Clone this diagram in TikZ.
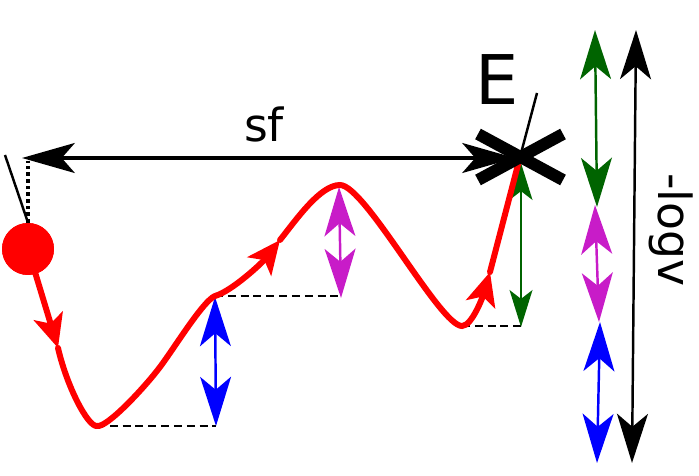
\documentclass[tikz,border=0pt]{standalone}
\usepackage{fontspec}
\setmainfont{DejaVu Sans}
\usepackage{tikz}
\usetikzlibrary{arrows.meta,positioning,calc}
\definecolor{dgreen}{RGB}{0,100,0}
\definecolor{mag}{RGB}{200,28,200}

\begin{document}
\begin{tikzpicture}[x=0.02cm, y=-0.02cm,
  lab/.style={font=\fontsize{26}{30}\selectfont, inner sep=0pt},
  biglab/.style={font=\fontsize{39}{44}\selectfont, inner sep=0pt},
  curve/.style={red, line width=3.4pt, line cap=round},
  redtip/.style={-{Stealth[length=19pt,width=17pt,inset=4.5pt]}},
  gap/.style={line width=1.4pt, {Stealth[length=28pt,width=17.6pt,inset=7.4pt]}-{Stealth[length=28pt,width=17.6pt,inset=7.4pt]}},
  smallgap/.style={line width=1.1pt, {Stealth[length=21pt,width=13pt,inset=5pt]}-{Stealth[length=21pt,width=13pt,inset=5pt]}},
  level/.style={black, line width=1.1pt, dash pattern=on 4.5pt off 2.8pt},
  rod/.style={black, line width=1.4pt},
  ball/.style={circle, fill=red, minimum size=1.04cm, inner sep=0pt}]
\useasboundingbox (0,0) rectangle (699,476);
% points of the path
\coordinate (a1) at (58,348);
\coordinate (m1) at (97,426);
\coordinate (s1) at (215,296);
\coordinate (a2) at (280,240);
\coordinate (top) at (340,185);
\coordinate (m2) at (462,326);
\coordinate (a3) at (490,272);
\coordinate (ts) at (520,157);
\coordinate (lrod) at (5,155);
\coordinate (rrod) at (537,93);
\coordinate (sfl) at (22,158);
\coordinate (sfr) at (515,158);
% gap arrows
\coordinate (btop) at (215,297); \coordinate (bbot) at (216,426);
\coordinate (mtop) at (339,187); \coordinate (mbot) at (341,298);
\coordinate (gtop) at (521,163); \coordinate (gbot) at (521,327);
% levels
\draw[level] (m1) -- (bbot);
\draw[level] (s1) -- (s1 -| mbot);
\draw[level] (m2) -- (m2 -| gbot);
\draw[gap, blue] (btop) -- (bbot);
\draw[gap, mag] (mtop) -- (mbot);
\draw[smallgap, dgreen] (gtop) -- (gbot);
% distance sf
\draw[line width=2.3pt, {Stealth[length=30pt,width=17pt,inset=7.4pt]}-{Stealth[length=30pt,width=17pt,inset=7.4pt]}] (sfl) -- (sfr);
\node[lab, anchor=base] (sflab) at (264,142) {sf};
% ball and rods
\node[ball] (ball) at (28,249) {};
\draw[rod] (lrod) -- (ball.north);
\draw[line width=2.2pt, dash pattern=on 2pt off 1.8pt] (ball.north) -- (ball.north |- 0,161);
\draw[rod] (ts) -- (rrod);
% path
\draw[curve, redtip] (ball) -- (a1);
\draw[curve, redtip] (a1) .. controls (67,387) and (88,427) .. (m1)
  .. controls (107,428) and (145,387) .. (160,367)
  .. controls (175,347) and (203,301) .. (s1)
  .. controls (232,291) and (262,263) .. (a2);
\draw[curve, redtip] (a2) .. controls (296,220) and (320,185) .. (top)
  .. controls (365,185) and (440,326) .. (m2)
  .. controls (472,326) and (483,296) .. (a3);
\draw[curve] (a3) -- (ts);
\node[ball] at (ball) {};
% target
\draw[black, line width=6.8pt] (478,134) -- (563,180) (478,180) -- (563,134);
\node[biglab] (elab) at (497,80) {E};
% scale on the right
\coordinate (c1) at (595,30); \coordinate (c2) at (597,207);
\coordinate (c3) at (595,205); \coordinate (c4) at (599,322);
\coordinate (c5) at (600,322); \coordinate (c6) at (597,463);
\coordinate (k1) at (636,30); \coordinate (k2) at (632,463);
\draw[gap, dgreen] (c1) -- (c2);
\draw[gap, mag] (c3) -- (c4);
\draw[gap, blue] (c5) -- (c6);
\draw[gap, black] (k1) -- (k2);
\node[lab, rotate=-90] (logv) at (671,230) {-logv};
\end{tikzpicture}
\end{document}
